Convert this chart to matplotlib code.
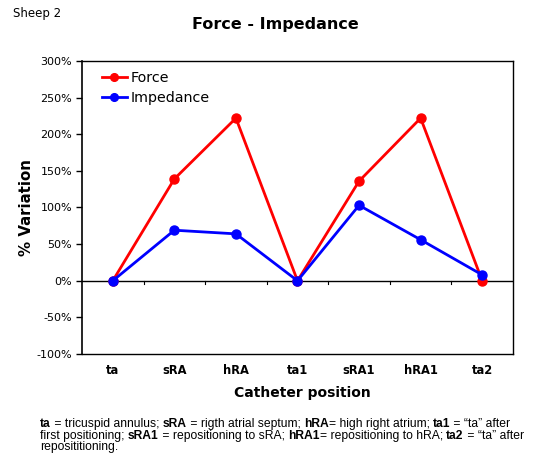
import matplotlib
matplotlib.use("Agg")
import matplotlib.pyplot as plt
from matplotlib.ticker import FuncFormatter

positions = ["ta", "sRA", "hRA", "ta1", "sRA1", "hRA1", "ta2"]
force = [0, 139, 222, 0, 136, 222, 0]
impedance = [0, 69, 64, 0, 103, 56, 8]

fig = plt.figure(figsize=(5.37, 4.61), dpi=100)
ax = fig.add_axes([0.1527, 0.2321, 0.8026, 0.6356])

x = list(range(len(positions)))
ax.plot(x, force, color="#ff0000", lw=2, marker="o", ms=6.5, label="Force", zorder=3)
ax.plot(x, impedance, color="#0000ff", lw=2, marker="o", ms=6.5, label="Impedance", zorder=4)

ax.set_xlim(-0.5, 6.5)
ax.set_ylim(-100, 300)
ax.set_yticks(range(-100, 301, 50))
ax.yaxis.set_major_formatter(FuncFormatter(lambda v, p: "%d%%" % v))
ax.tick_params(axis="y", labelsize=8, direction="out", length=4, width=1, pad=3)
for s in ax.spines.values():
    s.set_linewidth(1)
ax.spines["left"].set_linewidth(1.2)

# zero line with category separator ticks
ax.axhline(0, color="black", lw=1, zorder=2)
ax.set_xticks([])
for b in range(1, len(positions)):
    ax.plot([b - 0.5, b - 0.5], [0, -5], color="black", lw=0.8, zorder=2)
for i, lab in enumerate(positions):
    ax.text(i, -113, lab, ha="center", va="top", fontsize=8.3, fontweight="bold")

ax.set_ylabel("% Variation", fontsize=10.8, fontweight="bold", labelpad=2)
fig.text(302 / 537, 1 - 393 / 461, "Catheter position", ha="center", va="center",
         fontsize=10, fontweight="bold")
fig.text(275 / 537, 1 - 25 / 461, "Force - Impedance", ha="center", va="center",
         fontsize=11.5, fontweight="bold")
fig.text(13 / 537, 1 - 14 / 461, "Sheep 2", ha="left", va="center", fontsize=8.5)

leg = ax.legend(loc="upper left", bbox_to_anchor=(0.023, 1.0), frameon=False,
                fontsize=10.3, handlelength=1.75, handletextpad=0.25,
                labelspacing=0.45, borderaxespad=0.3, markerscale=0.85)

# footnote with bold runs
note = [
    [("ta", True), (" = tricuspid annulus; ", False), ("sRA", True),
     (" = rigth atrial septum; ", False), ("hRA", True), ("= high right atrium; ", False),
     ("ta1", True), (" = \u201cta\u201d after", False)],
    [("first positioning; ", False), ("sRA1", True), (" = repositioning to sRA; ", False),
     ("hRA1", True), ("= repositioning to hRA; ", False), ("ta2", True),
     (" = \u201cta\u201d after", False)],
    [("reposititioning.", False)],
]
fig.canvas.draw()
r = fig.canvas.get_renderer()
ys = [424, 435.5, 447]
for line, yp in zip(note, ys):
    xp = 40
    for txt, bold in line:
        t = fig.text(xp / 537, 1 - yp / 461, txt, ha="left", va="center",
                     fontsize=8.7, family="Liberation Sans",
                     fontweight="bold" if bold else "normal")
        w = t.get_window_extent(renderer=r).width
        xp += w

fig.savefig("out.png", dpi=100)
